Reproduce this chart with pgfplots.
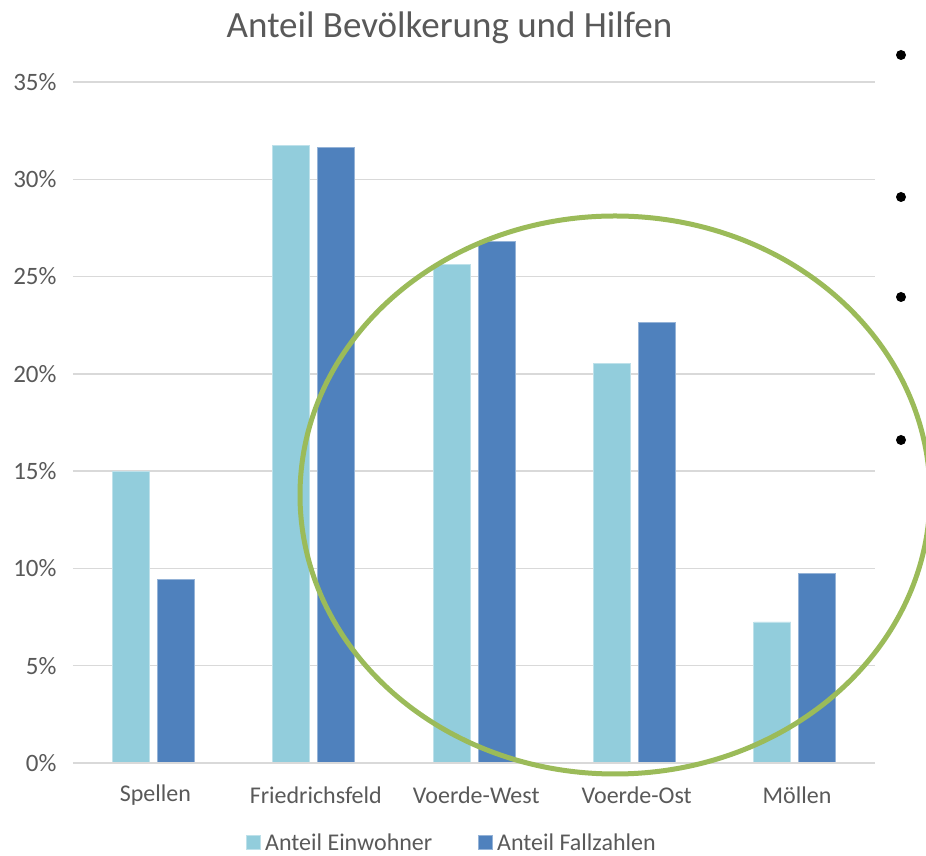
\documentclass[border=0pt]{standalone}
\usepackage{pgfplots}
\pgfplotsset{compat=1.18}
\usepackage{fontspec}
\setmainfont{Carlito}
\definecolor{lightbar}{HTML}{92CDDC}
\definecolor{darkbar}{HTML}{4F81BD}
\definecolor{gridgray}{HTML}{D9D9D9}
\definecolor{txtgray}{HTML}{595959}
\definecolor{ellgreen}{HTML}{9BBB59}
\begin{document}
\begin{tikzpicture}[x=1pt,y=1pt]
\useasboundingbox (0,0) rectangle (926,856);
\begin{axis}[
  at={(73pt,93pt)}, anchor=south west,
  scale only axis, width=802pt, height=681pt,
  xmin=-0.5, xmax=4.5, ymin=0, ymax=35,
  ybar=8pt, bar width=37pt,
  axis line style={draw=none},
  ytick={0,5,...,35},
  yticklabel={\pgfmathprintnumber{\tick}\%},
  /pgf/number format/assume math mode=true,
  ymajorgrids, grid style={gridgray, line width=1.5pt},
  yticklabel style={font=\fontsize{25}{28}\selectfont, text=txtgray, xshift=-13pt},
  xtick=\empty,
  major tick length=0pt,
  clip=false,
  legend columns=2,
  legend style={draw=none, fill=none, font=\fontsize{24}{28}\selectfont, text=txtgray,
    at={(0.4726,-0.117)}, anchor=center, inner sep=0pt,
    /tikz/every even column/.append style={column sep=44pt},
    /tikz/every odd column/.append style={column sep=2pt}},
  legend image code/.code={\fill[#1] (0pt,-7pt) rectangle (14pt,7pt);},
]
\addplot[fill=lightbar, draw=lightbar!60!white, line width=0.8pt] coordinates {(0,15.0) (1,31.75) (2,25.63) (3,20.55) (4,7.25)};
\addplot[fill=darkbar, draw=darkbar!60!white, line width=0.8pt] coordinates {(0,9.45) (1,31.65) (2,26.82) (3,22.64) (4,9.76)};
\legend{Anteil Einwohner, Anteil Fallzahlen}
\draw[gridgray, line width=2pt] (axis cs:-0.5,0) -- (axis cs:4.5,0);
\end{axis}
% category labels
\foreach \lab/\xx in {Spellen/155.4, Friedrichsfeld/315.8, Voerde-West/476.2, Voerde-Ost/636.6, Möllen/797}{
  \node[text=txtgray, font=\fontsize{24}{28}\selectfont] at (\xx,61) {\lab};
}
\node[text=txtgray, font=\fontsize{37}{42}\selectfont] at (449.5,828) {Anteil Bevölkerung und Hilfen};
\draw[ellgreen, line width=5pt] (615,361) ellipse [x radius=315, y radius=279];
\foreach \yy in {55,197,297,440}{
  \fill[black] (901,856-\yy) circle (5);
}
\end{tikzpicture}
\end{document}
